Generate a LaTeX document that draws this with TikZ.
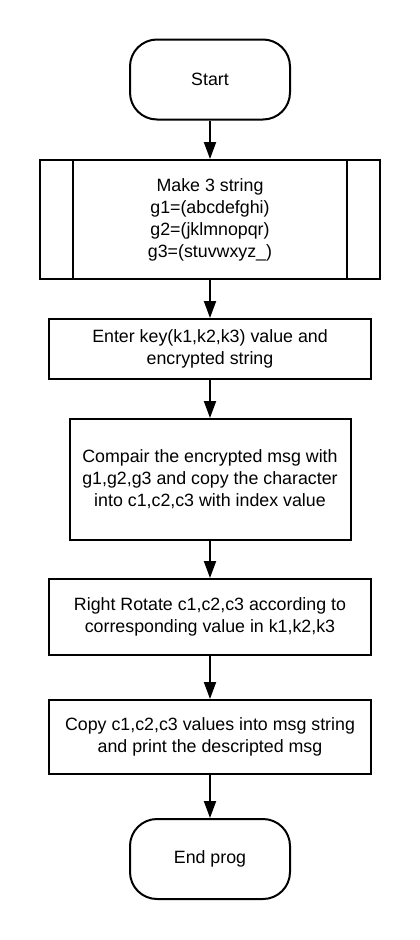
\documentclass[tikz,border=0pt]{standalone}
\usepackage{fontspec}
\setmainfont{Liberation Sans}
\usetikzlibrary{arrows.meta,calc}
\begin{document}
\begin{tikzpicture}[x=1pt,y=-1pt,
  base/.style={draw=black,line width=2pt,align=center,font=\fontsize{17.8}{22}\selectfont,inner sep=0pt},
  term/.style={base,rounded corners=27pt,minimum width=160pt,minimum height=80pt},
  procbox/.style={base,minimum width=322pt},
  arr/.style={line width=2pt,-{Triangle[width=12pt,length=17pt]}}]
\useasboundingbox[fill=white] (0,0) rectangle (420,940);
\node[term] (start) at (210,79.5) {Start};
\node[base,minimum width=340pt,minimum height=119pt] (make) at (210,219.5) {Make 3 string\\g1=(abcdefghi)\\g2=(jklmnopqr)\\g3=(stuvwxyz\_)};
\draw[line width=2pt] ($(make.north west)+(34,0)$) -- ($(make.south west)+(34,0)$);
\draw[line width=2pt] ($(make.north east)+(-34,0)$) -- ($(make.south east)+(-34,0)$);
\node[procbox,minimum height=60pt] (enter) at (210,349) {Enter key(k1,k2,k3) value and\\encrypted string};
\node[base,minimum width=281pt,minimum height=121pt] (comp) at (210,479.5) {Compair the encrypted msg with\\g1,g2,g3 and copy the character\\into c1,c2,c3 with index value};
\node[procbox,minimum height=76pt] (rot) at (210,617) {Right Rotate c1,c2,c3 according to\\corresponding value in k1,k2,k3};
\node[procbox,minimum height=74pt] (copy) at (210,737) {Copy c1,c2,c3 values into msg string\\and print the descripted msg};
\node[term] (end) at (210,859) {End prog};
\draw[arr] (start) -- (make);
\draw[arr] (make) -- (enter);
\draw[arr] (enter) -- (comp);
\draw[arr] (comp) -- (rot);
\draw[arr] (rot) -- (copy);
\draw[arr] (copy) -- (end);
\end{tikzpicture}
\end{document}
